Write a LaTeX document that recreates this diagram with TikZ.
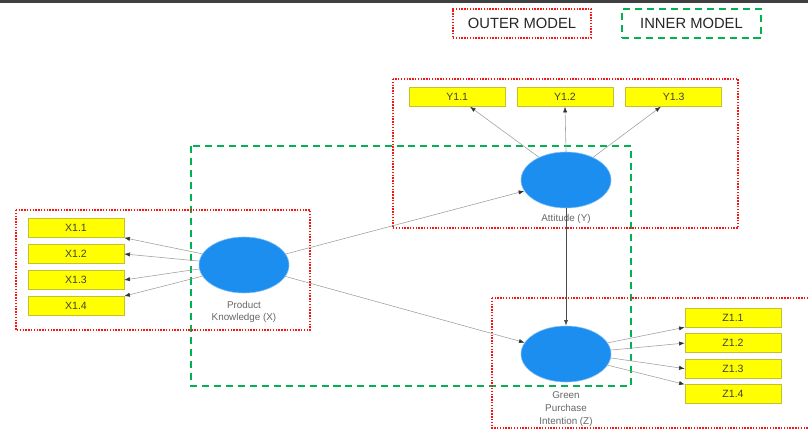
\documentclass[tikz,border=0pt]{standalone}
\usepackage{fontspec}
\setmainfont{Liberation Sans}
\usetikzlibrary{positioning,arrows.meta,shapes.geometric}
\usepackage{xcolor}
\definecolor{lvblue}{RGB}{28,142,240}
\definecolor{indyellow}{RGB}{255,255,0}
\definecolor{outerred}{RGB}{250,20,20}
\definecolor{innergreen}{RGB}{0,178,80}

\begin{document}
\begin{tikzpicture}[
    x=0.025cm, y=-0.025cm,
    node distance=0.16cm,
    latent/.style={ellipse, draw=lvblue!55, fill=lvblue, minimum width=2.25cm, minimum height=1.4cm, inner sep=0pt},
    indicator/.style={draw=yellow!75!black, fill=indyellow, minimum width=2.4cm, minimum height=0.475cm, inner sep=0pt, font=\fontsize{7.5}{8}\selectfont, text=black!75},
    lbl/.style={align=center, font=\fontsize{7}{9}\selectfont, text=black!60},
    legendbox/.style={minimum height=0.725cm, font=\fontsize{10.5}{12}\selectfont, text=black!85},
    outer/.style={draw=outerred, line width=0.9pt, dash pattern=on 1pt off 1pt},
    inner/.style={draw=innergreen, line width=1pt, dash pattern=on 5pt off 3.5pt},
    load/.style={-{Latex[length=4pt,width=3pt,color=black!80]}, draw=gray!75, line width=0.4pt},
    effect/.style={-{Latex[length=4pt,width=3pt]}, draw=black!70, line width=0.6pt}
]
    \clip (0,0) rectangle (808,432);
    \fill[white] (0,0) rectangle (808,432);
    \draw[line width=2.2pt, black!75] (0,1) -- (808,1);

    % legend
    \node[legendbox, outer, minimum width=3.45cm] (outerkey) at (522,23.5) {OUTER MODEL};
    \node[legendbox, inner, minimum width=3.475cm] (innerkey) at (691.5,23.5) {INNER MODEL};

    % measurement and structural frames
    \draw[inner] (191,146) rectangle (631,386);
    \draw[outer] (16,210) rectangle (310,330);
    \draw[outer] (393,79) rectangle (738,228);
    \draw[outer] (492,298) rectangle (814,428);

    % latent variables
    \node[latent] (pk) at (244,265) {};
    \node[latent] (att) at (566,180) {};
    \node[latent] (gpi) at (566,354) {};
    \node[lbl] (pklbl) at (244,312) {Product\\Knowledge (X)};
    \node[lbl] (attlbl) at (566,219) {Attitude (Y)};
    \node[lbl] (gpilbl) at (566,409) {Green\\Purchase\\Intention (Z)};

    % indicators
    \node[indicator] (x11) at (76,228) {X1.1};
    \node[indicator, below=of x11] (x12) {X1.2};
    \node[indicator, below=of x12] (x13) {X1.3};
    \node[indicator, below=of x13] (x14) {X1.4};

    \node[indicator] (y12) at (565,97) {Y1.2};
    \node[indicator, left=0.28cm of y12] (y11) {Y1.1};
    \node[indicator, right=0.3cm of y12] (y13) {Y1.3};

    \node[indicator] (z11) at (733,317.5) {Z1.1};
    \node[indicator, below=0.15cm of z11] (z12) {Z1.2};
    \node[indicator, below=0.15cm of z12] (z13) {Z1.3};
    \node[indicator, below=0.15cm of z13] (z14) {Z1.4};

    % loadings
    \draw[load] (pk.165) -- (x11.south east);
    \draw[load] (pk.175) -- (x12.east);
    \draw[load] (pk.185) -- (x13.east);
    \draw[load] (pk.195) -- (x14.north east);

    \draw[load] (att.140) -- ([xshift=0.32cm]y11.south);
    \draw[load] (att.north) -- (y12.south);
    \draw[load] (att.40) -- ([xshift=-0.32cm]y13.south);

    \draw[load] (gpi.15) -- (z11.south west);
    \draw[load] (gpi.5) -- (z12.west);
    \draw[load] (gpi.-5) -- (z13.west);
    \draw[load] (gpi.-15) -- (z14.north west);

    % paths
    \draw[load] (pk) -- (att);
    \draw[load] (pk) -- (gpi);
    \draw[effect] (att) -- (gpi);
\end{tikzpicture}
\end{document}
